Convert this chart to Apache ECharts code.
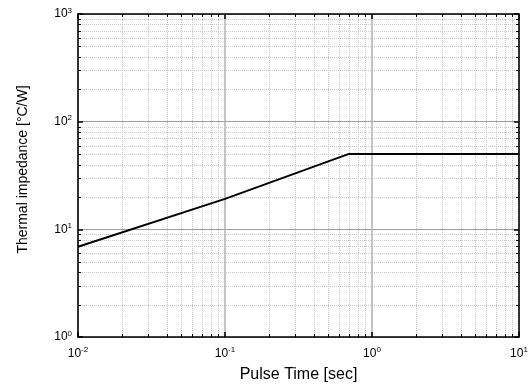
<!DOCTYPE html>
<html>
<head>
<meta charset="utf-8">
<script src="https://cdn.jsdelivr.net/npm/echarts@6/dist/echarts.min.js"></script>
<style>
  html, body { margin: 0; padding: 0; background: #fff; }
  #chart { width: 532px; height: 391px; }
</style>
</head>
<body>
<div id="chart"></div>
<script>
// curve
const pulseTime = [0.01, 0.1, 0.69, 10];
const impedance = [6.9, 19.2, 50, 50];

const xRange = [0.01, 10];
const yRange = [1, 1000];

// minor tick values (2..9 per decade)
const xMinor = [0.02, 0.03, 0.04, 0.05, 0.06, 0.07, 0.08, 0.09,
                0.2, 0.3, 0.4, 0.5, 0.6, 0.7, 0.8, 0.9,
                2, 3, 4, 5, 6, 7, 8, 9];
const yMinor = [2, 3, 4, 5, 6, 7, 8, 9,
                20, 30, 40, 50, 60, 70, 80, 90,
                200, 300, 400, 500, 600, 700, 800, 900];

const font = "'Liberation Sans', Arial, sans-serif";

const powLabel = v => {
    const e = Math.round(Math.log10(v));
    return '{b|10}{s|' + e + '}';
};

const labelRich = {
    b: { fontSize: 12, fontFamily: font, color: '#000' },
    s: { fontSize: 8, fontFamily: font, color: '#000', padding: [0, 0, 7, 0] }
};

const logAxis = (range, extra) => ({
    type: 'log',
    logBase: 10,
    min: range[0],
    max: range[1],
    axisLine: { show: true, lineStyle: { color: '#000', width: 1.5 } },
    axisTick: { show: true, inside: true, length: 5, lineStyle: { color: '#000', width: 1.5 } },
    splitLine: { show: false },
    axisLabel: { show: false },
    ...extra
});

const snap = v => Math.round(v) + 0.5;

const minorX = (params, api) => {
    const cs = params.coordSys;
    const x = snap(api.coord([api.value(0), yRange[0]])[0]);
    const top = cs.y, bot = cs.y + cs.height;
    return {
        type: 'group',
        children: [
            { type: 'line', shape: { x1: x, y1: top, x2: x, y2: bot },
              style: { stroke: '#c8c8c8', lineWidth: 1, lineDash: [1, 1] } },
            { type: 'line', shape: { x1: x, y1: bot, x2: x, y2: bot - 3 },
              style: { stroke: '#000', lineWidth: 1 } },
            { type: 'line', shape: { x1: x, y1: top, x2: x, y2: top + 3 },
              style: { stroke: '#000', lineWidth: 1 } }
        ]
    };
};

const minorY = (params, api) => {
    const cs = params.coordSys;
    const y = snap(api.coord([xRange[0], api.value(1)])[1]);
    const left = cs.x, right = cs.x + cs.width;
    return {
        type: 'group',
        children: [
            { type: 'line', shape: { x1: left, y1: y, x2: right, y2: y },
              style: { stroke: '#c8c8c8', lineWidth: 1, lineDash: [1, 1] } },
            { type: 'line', shape: { x1: left, y1: y, x2: left + 3, y2: y },
              style: { stroke: '#000', lineWidth: 1 } },
            { type: 'line', shape: { x1: right, y1: y, x2: right - 3, y2: y },
              style: { stroke: '#000', lineWidth: 1 } }
        ]
    };
};

const option = {
    animation: false,
    grid: { left: 78, right: 13, top: 14, bottom: 54 },
    xAxis: [
        logAxis(xRange, {
            position: 'bottom',
            name: 'Pulse Time [sec]',
            nameLocation: 'middle',
            nameGap: 30,
            nameTextStyle: { fontSize: 16, fontFamily: font, color: '#000' },
            axisLabel: { show: true, margin: 9, formatter: powLabel, rich: labelRich },
            splitLine: { show: true, lineStyle: { color: '#b0b0b0', width: 1.5 } }
        }),
        logAxis(xRange, { position: 'top' })
    ],
    yAxis: [
        logAxis(yRange, {
            position: 'left',
            name: 'Thermal impedance [\u00B0C/W]',
            nameLocation: 'middle',
            nameGap: 48,
            nameTextStyle: { fontSize: 14, fontFamily: font, color: '#000', padding: [0, 0, 0, 12] },
            axisLabel: { show: true, margin: 6, formatter: powLabel, rich: labelRich },
            splitLine: { show: true, lineStyle: { color: '#a0a0a0', width: 1 } }
        }),
        logAxis(yRange, { position: 'right' })
    ],
    series: [
        {
            type: 'custom',
            renderItem: minorX,
            data: xMinor.map(v => [v, yRange[0]]),
            silent: true,
            z: 1
        },
        {
            type: 'custom',
            renderItem: minorY,
            data: yMinor.map(v => [xRange[0], v]),
            silent: true,
            z: 1
        },
        {
            type: 'line',
            data: pulseTime.map((t, i) => [t, impedance[i]]),
            showSymbol: false,
            lineStyle: { color: '#000', width: 2 },
            z: 5
        }
    ]
};

const myChart = echarts.init(document.getElementById('chart'));
myChart.setOption(option);
</script>
</body>
</html>
